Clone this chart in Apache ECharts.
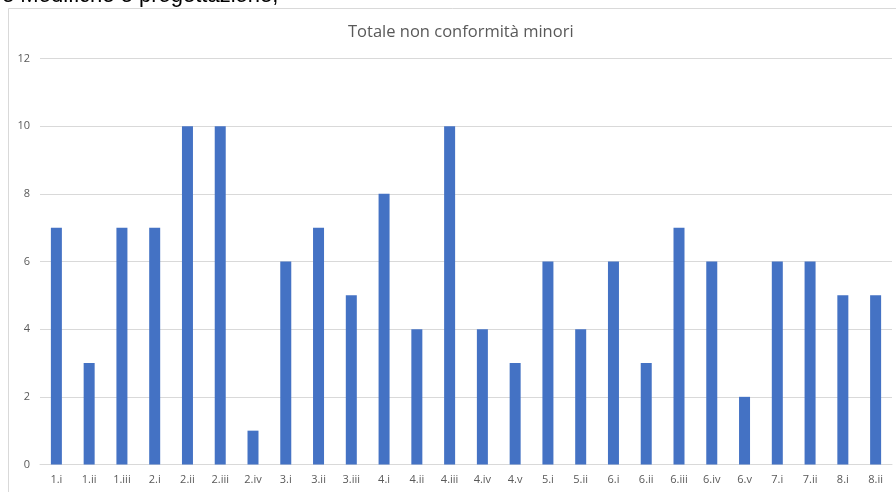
<!DOCTYPE html>
<html>
<head>
<meta charset="utf-8">
<script src="https://cdn.jsdelivr.net/npm/echarts@6/dist/echarts.min.js"></script>
<style>
  html, body { margin: 0; padding: 0; background: #fff; }
  #chart { width: 896px; height: 492px; }
</style>
</head>
<body>
<div id="chart"></div>
<script>
// categorie e valori
const categories = ['1.i', '1.ii', '1.iii', '2.i', '2.ii', '2.iii', '2.iv', '3.i', '3.ii', '3.iii',
    '4.i', '4.ii', '4.iii', '4.iv', '4.v', '5.i', '5.ii', '6.i', '6.ii', '6.iii', '6.iv', '6.v',
    '7.i', '7.ii', '8.i', '8.ii'];
const values = [7, 3, 7, 7, 10, 10, 1, 6, 7, 5, 8, 4, 10, 4, 3, 6, 4, 6, 3, 7, 6, 2, 6, 6, 5, 5];
const titleText = 'Totale non conformità minori';
const headerText = 'e Modifiche e progettazione,';

const myChart = echarts.init(document.getElementById('chart'), null, { renderer: 'canvas' });
myChart.setOption({
    animation: false,
    backgroundColor: '#fff',
    title: {
        text: titleText,
        left: 343,
        top: 19,
        textStyle: {
            color: '#595959',
            fontSize: 16.5,
            fontWeight: 'normal',
            fontFamily: 'Open Sans, Liberation Sans, sans-serif'
        }
    },
    graphic: [
        {
            type: 'rect',
            shape: { x: 8.5, y: 8.5, width: 900, height: 500 },
            style: { fill: 'none', stroke: '#d9d9d9', lineWidth: 1 },
            z: -1
        },
        {
            type: 'text',
            x: 2,
            y: 7,
            style: {
                text: headerText,
                fill: '#000',
                font: '22px Liberation Sans, Arial, sans-serif',
                verticalAlign: 'bottom'
            }
        }
    ],
    grid: {
        left: 40,
        right: 4,
        top: 58.5,
        bottom: 27.5,
        containLabel: false
    },
    xAxis: {
        type: 'category',
        data: categories,
        axisLine: { lineStyle: { color: '#d9d9d9' } },
        axisTick: { show: false },
        axisLabel: {
            color: '#595959',
            fontSize: 11,
            margin: 10,
            interval: 0,
            fontFamily: 'Open Sans, Liberation Sans, sans-serif'
        }
    },
    yAxis: {
        type: 'value',
        min: 0,
        max: 12,
        interval: 2,
        axisLine: { show: false },
        axisTick: { show: false },
        axisLabel: {
            color: '#595959',
            fontSize: 11,
            margin: 10,
            fontFamily: 'Open Sans, Liberation Sans, sans-serif'
        },
        splitLine: { lineStyle: { color: '#d9d9d9' } }
    },
    series: [
        {
            type: 'bar',
            data: values,
            barWidth: 11,
            itemStyle: { color: '#4472c4' }
        }
    ]
});
</script>
</body>
</html>
